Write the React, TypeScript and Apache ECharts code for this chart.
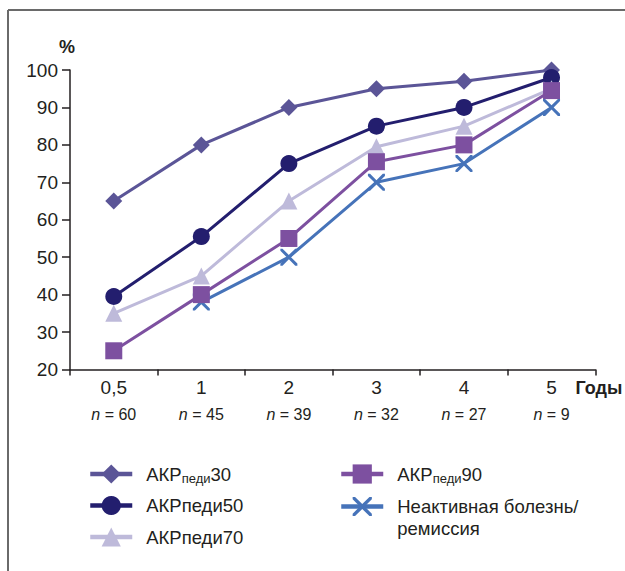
import React, { useEffect, useRef } from "react";
import * as echarts from "echarts";

const categories = ["0,5", "1", "2", "3", "4", "5"];
const nValues = ["60", "45", "39", "32", "27", "9"];
const acr30 = [65, 80, 90, 95, 97, 100];
const acr50 = [39.5, 55.5, 75, 85, 90, 98];
const acr70 = [35, 45, 65, 79.5, 85, 95];
const acr90 = [25, 40, 55, 75.5, 80, 94.5];
const inactive = [null, 38, 50, 70, 75, 90];

const names = {
  a30: "АКРпеди30",
  a50: "АКРпеди50",
  a70: "АКРпеди70",
  a90: "АКРпеди90",
  inact: "Неактивная болезнь/ремиссия",
};

const FONT = "'Liberation Sans', Arial, Helvetica, sans-serif";
const TEXT = "#231f20";
const CROSS =
  "path://M0,0L2,0L8,6L14,0L16,0L16,2L10,8L16,14L16,16L14,16L8,10L2,16L0,16L0,14L6,8L0,2Z";

export default function App() {
  const ref = useRef<HTMLDivElement>(null);
  useEffect(() => {
    if (!ref.current) return;
    const chart = echarts.init(ref.current, null, { renderer: "svg" });
    const rich = {
      a: { fontSize: 18.5, lineHeight: 22, fontFamily: FONT, color: TEXT },
      s: {
        fontSize: 13,
        lineHeight: 13,
        verticalAlign: "bottom",
        padding: [3, 0, 0, 0],
        fontFamily: FONT,
        color: TEXT,
      },
    };
    const mkSeries = (name: string, data: any[], color: string, symbol: string, z: number) => ({
      name,
      type: "line",
      data,
      symbol,
      symbolSize: 17,
      z,
      clip: false,
      lineStyle: { color, width: 3 },
      itemStyle: { color },
      emphasis: { disabled: true },
    });
    chart.setOption({
      animation: false,
      backgroundColor: "#ffffff",
      textStyle: { fontFamily: FONT, color: TEXT },
      grid: { left: 70, top: 70, width: 529, height: 299.5, containLabel: false },
      xAxis: {
        type: "category",
        data: categories,
        boundaryGap: true,
        name: "Годы",
        nameLocation: "end",
        nameGap: -2,
        nameTextStyle: {
          fontSize: 18,
          fontWeight: "bold",
          fontFamily: FONT,
          color: TEXT,
          align: "center",
          verticalAlign: "top",
          lineHeight: 18,
          padding: [9, 0, 0, 0],
        },
        axisLine: { lineStyle: { color: TEXT, width: 1.5 } },
        axisTick: { show: true, length: 6, alignWithLabel: false, lineStyle: { color: TEXT, width: 1.5 } },
        axisLabel: {
          margin: 8,
          interval: 0,
          formatter: (v: string, i: number) => `{c|${v}}\n{i|n}{m| = ${nValues[i]}}`,
          rich: {
            c: { fontSize: 19, lineHeight: 20, fontFamily: FONT, color: TEXT },
            i: { fontSize: 16, lineHeight: 34, fontStyle: "italic", fontFamily: FONT, color: TEXT },
            m: { fontSize: 16, lineHeight: 34, fontFamily: FONT, color: TEXT },
          },
        },
        splitLine: { show: false },
      },
      yAxis: {
        type: "value",
        min: 20,
        max: 100,
        interval: 10,
        name: "%",
        nameLocation: "end",
        nameGap: 23,
        nameTextStyle: {
          fontSize: 18,
          fontWeight: "bold",
          fontFamily: FONT,
          color: TEXT,
          align: "center",
          verticalAlign: "middle",
          padding: [0, 6, 0, 0],
        },
        axisLine: { show: true, lineStyle: { color: TEXT, width: 1.5 } },
        axisTick: { show: true, length: 8, lineStyle: { color: TEXT, width: 1.5 } },
        axisLabel: { margin: 12, fontSize: 19, fontFamily: FONT, color: TEXT },
        splitLine: { show: false },
      },
      legend: [
        {
          left: 88,
          top: 463,
          padding: 0,
          orient: "vertical",
          itemWidth: 42,
          itemHeight: 24,
          itemGap: 9.5,
          selectedMode: false,
          lineStyle: { width: 4.5 },
          data: [names.a30, names.a50, names.a70],
          formatter: (n: string) =>
            n === names.a30 ? "{a|АКР}{s|педи}{a|30}" : `{a|${n}}`,
          textStyle: { fontSize: 18.5, lineHeight: 22, fontFamily: FONT, color: TEXT, padding: [0, 0, 0, 9], rich },
        },
        {
          left: 339,
          top: 463,
          padding: 0,
          orient: "vertical",
          itemWidth: 42,
          itemHeight: 24,
          itemGap: -11.5,
          selectedMode: false,
          lineStyle: { width: 4.5 },
          data: [
            names.a90,
            { name: names.inact, textStyle: { lineHeight: 22, padding: [22, 0, 0, 9] } },
          ],
          formatter: (n: string) =>
            n === names.a90 ? "{a|АКР}{s|педи}{a|90}" : "Неактивная болезнь/\nремиссия",
          textStyle: { fontSize: 18.5, lineHeight: 22, fontFamily: FONT, color: TEXT, padding: [0, 0, 0, 9], rich },
        },
      ],
      graphic: [
        {
          type: "line",
          shape: { x1: 8, y1: 10, x2: 625, y2: 10 },
          style: { stroke: "#6a6a6a", lineWidth: 2 },
          silent: true,
        },
        {
          type: "line",
          shape: { x1: 8, y1: 10, x2: 8, y2: 571 },
          style: { stroke: "#6a6a6a", lineWidth: 2 },
          silent: true,
        },
      ],
      series: [
        mkSeries(names.a30, acr30, "#5b5597", "diamond", 2),
        mkSeries(names.a50, acr50, "#231e6e", "circle", 3),
        mkSeries(names.a70, acr70, "#bebada", "triangle", 4),
        mkSeries(names.inact, inactive, "#4673b9", CROSS, 5),
        mkSeries(names.a90, acr90, "#7d50a0", "rect", 6),
      ],
    });
    return () => chart.dispose();
  }, []);
  return (
    <div
      ref={ref}
      style={{ position: "fixed", left: 0, top: 0, width: 625, height: 571, background: "#fff" }}
    />
  );
}
